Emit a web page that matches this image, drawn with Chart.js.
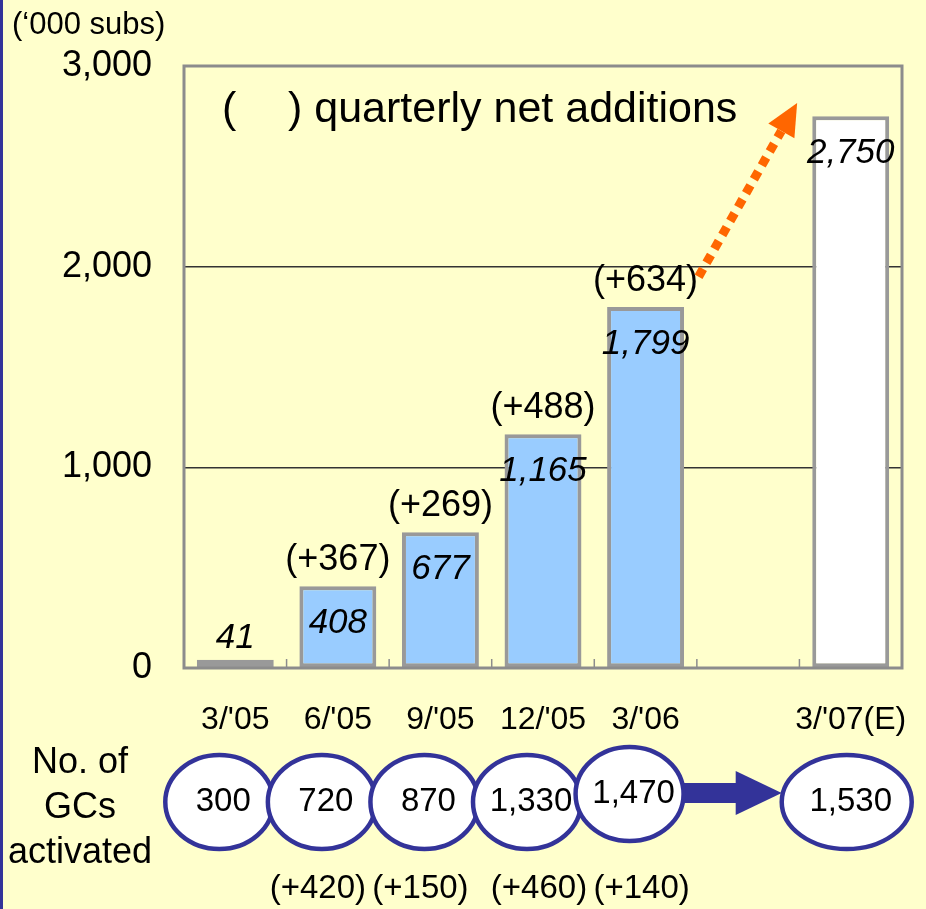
<!DOCTYPE html>
<html>
<head>
<meta charset="utf-8">
<script src="https://cdn.jsdelivr.net/npm/chart.js@4"></script>
<style>
html, body { margin: 0; padding: 0; background: #ffffcc; overflow: hidden; }
#wrap { width: 926px; height: 909px; position: relative; }
#mycanvas { display: block; }
</style>
</head>
<body>
<div id="wrap"><canvas id="mycanvas"></canvas></div>
<script>
// data
var quarters = ["3/'05", "6/'05", "9/'05", "12/'05", "3/'06", "", "3/'07(E)"];
var subs = [41, 408, 677, 1165, 1799, null, 2750];
var netAdds = [null, 367, 269, 488, 634, null, null];
var gcs = [300, 720, 870, 1330, 1470, null, 1530];
var gcAdds = [null, 420, 150, 460, 140, null, null];
var yTicks = [0, 1000, 2000, 3000];

var FONT = "'Liberation Sans', Arial, sans-serif";
var NAVY = '#333399';

function fmt(v) { return v.toLocaleString('en-US'); }

var extras = {
    id: 'extras',
    beforeDraw: function(chart) {
        var c = chart.ctx;
        c.save();
        c.fillStyle = '#ffffcc';
        c.fillRect(0, 0, chart.width, chart.height);
        c.fillStyle = NAVY;
        c.fillRect(0, 0, 3, chart.height);
        c.restore();
    },
    afterDatasetsDraw: function(chart) {
        var c = chart.ctx;
        var a = chart.chartArea;
        var x = chart.scales.x, y = chart.scales.y;
        var meta = chart.getDatasetMeta(0);
        c.save();

        // frame
        c.strokeStyle = '#8c8c8c';
        c.lineWidth = 3;
        c.strokeRect(a.left, a.top, a.right - a.left, a.bottom - a.top);

        // small ticks at category boundaries
        c.lineWidth = 1.5;
        for (var k = 1; k < quarters.length; k++) {
            var bx = (x.getPixelForValue(k - 1) + x.getPixelForValue(k)) / 2;
            c.beginPath();
            c.moveTo(bx, a.bottom);
            c.lineTo(bx, a.bottom - 9);
            c.stroke();
        }

        // axis unit + inner title
        c.fillStyle = '#000';
        c.textBaseline = 'middle';
        c.textAlign = 'left';
        c.font = '31px ' + FONT;
        c.fillText('(\u2018000 subs)', 12, 25);
        c.font = '43px ' + FONT;
        c.fillText('(', a.left + 38, a.top + 44);
        c.fillText(') quarterly net additions', a.left + 104, a.top + 44);

        // value labels
        c.textAlign = 'center';
        meta.data.forEach(function(bar, i) {
            if (subs[i] == null) return;
            c.font = 'italic 35px ' + FONT;
            var ly = subs[i] < 200 ? bar.y - 22 : bar.y + 37;
            c.fillText(fmt(subs[i]), bar.x, ly);
            if (netAdds[i] != null) {
                c.font = '36px ' + FONT;
                c.fillText('(+' + netAdds[i] + ')', bar.x, bar.y - 26);
            }
        });

        // orange dotted forecast arrow
        var x0 = x.getPixelForValue(4) + 53, y0 = y.getPixelForValue(1950);
        var x1 = x.getPixelForValue(5) + 49, y1 = y.getPixelForValue(2815);
        var ang = Math.atan2(y1 - y0, x1 - x0);
        var hl = 32;
        c.strokeStyle = '#ff6600';
        c.fillStyle = '#ff6600';
        c.lineWidth = 9;
        c.setLineDash([9, 7]);
        c.beginPath();
        c.moveTo(x0, y0);
        c.lineTo(x1 - hl * Math.cos(ang), y1 - hl * Math.sin(ang));
        c.stroke();
        c.setLineDash([]);
        c.beginPath();
        c.moveTo(x1, y1);
        c.lineTo(x1 - hl * Math.cos(ang) + 15 * Math.sin(ang), y1 - hl * Math.sin(ang) - 15 * Math.cos(ang));
        c.lineTo(x1 - hl * Math.cos(ang) - 15 * Math.sin(ang), y1 - hl * Math.sin(ang) + 15 * Math.cos(ang));
        c.closePath();
        c.fill();

        // GC row
        c.fillStyle = '#000';
        c.font = '36px ' + FONT;
        c.fillText('No. of', 80, 763);
        c.fillText('GCs', 80, 808);
        c.fillText('activated', 80, 853);

        var pts = [];
        gcs.forEach(function(v, i) {
            if (v == null) return;
            var last = i === gcs.length - 1;
            pts.push({
                i: i, v: v,
                cx: x.getPixelForValue(i) - (last ? 4 : 16),
                cy: i === 4 ? 794 : 802,
                rx: last ? 65 : 54,
                ry: 47
            });
        });
        // connector bar
        c.strokeStyle = NAVY;
        c.lineWidth = 12;
        c.beginPath();
        c.moveTo(pts[0].cx, 796);
        c.lineTo(pts[4].cx, 796);
        c.stroke();
        // block arrow to forecast
        var p5 = pts[4], p6 = pts[5];
        c.fillStyle = NAVY;
        c.fillRect(p5.cx, 783, (p6.cx - p6.rx) - 44 - p5.cx, 20);
        c.beginPath();
        c.moveTo(p6.cx - p6.rx, 793);
        c.lineTo(p6.cx - p6.rx - 46, 771);
        c.lineTo(p6.cx - p6.rx - 46, 815);
        c.closePath();
        c.fill();

        pts.forEach(function(p) {
            c.beginPath();
            c.ellipse(p.cx, p.cy, p.rx, p.ry, 0, 0, Math.PI * 2);
            c.fillStyle = '#fff';
            c.fill();
            c.lineWidth = 4.5;
            c.strokeStyle = NAVY;
            c.stroke();
            c.fillStyle = '#000';
            c.font = '33px ' + FONT;
            c.fillText(fmt(p.v), p.cx + (p.i === 5 ? 6 : 4), p.cy);
            if (gcAdds[p.i] != null) {
                c.fillText('(+' + gcAdds[p.i] + ')', p.cx + (p.i > 2 ? 12 : -4), 889);
            }
        });
        c.restore();
    }
};

var ctx = document.getElementById('mycanvas');
var chart = new Chart(ctx, {
    type: 'bar',
    data: {
        labels: quarters,
        datasets: [{
            data: subs,
            backgroundColor: ['#99ccff', '#99ccff', '#99ccff', '#99ccff', '#99ccff', '#99ccff', '#ffffff'],
            borderColor: '#999999',
            borderWidth: 4,
            borderSkipped: false,
            barPercentage: 0.75,
            categoryPercentage: 1
        }]
    },
    options: {
        responsive: true,
        maintainAspectRatio: false,
        animation: false,
        devicePixelRatio: 1,
        layout: { padding: { top: 66, right: 24, left: 0, bottom: 0 } },
        plugins: { legend: { display: false }, tooltip: { enabled: false } },
        scales: {
            x: {
                afterFit: function(s) {
                    s.height = 241;
                    s.paddingLeft = 0;
                    s.paddingRight = 0;
                },
                grid: { display: false },
                border: { display: false },
                ticks: {
                    color: '#000',
                    font: { family: FONT, size: 32 },
                    padding: 25,
                    maxRotation: 0,
                    autoSkip: false
                }
            },
            y: {
                min: 0,
                max: 3000,
                afterFit: function(s) { s.width = 184; },
                afterBuildTicks: function(s) { s.ticks = yTicks.map(function(v) { return { value: v }; }); },
                grid: {
                    drawTicks: false,
                    lineWidth: 1.5,
                    color: function(c) {
                        var v = c.tick && c.tick.value;
                        return (v === 1000 || v === 2000) ? '#333333' : 'rgba(0,0,0,0)';
                    }
                },
                border: { display: false },
                ticks: {
                    color: '#000',
                    font: { family: FONT, size: 36 },
                    padding: 32,
                    callback: function(v) { return fmt(v); }
                }
            }
        }
    },
    plugins: [extras]
});
</script>
</body>
</html>
